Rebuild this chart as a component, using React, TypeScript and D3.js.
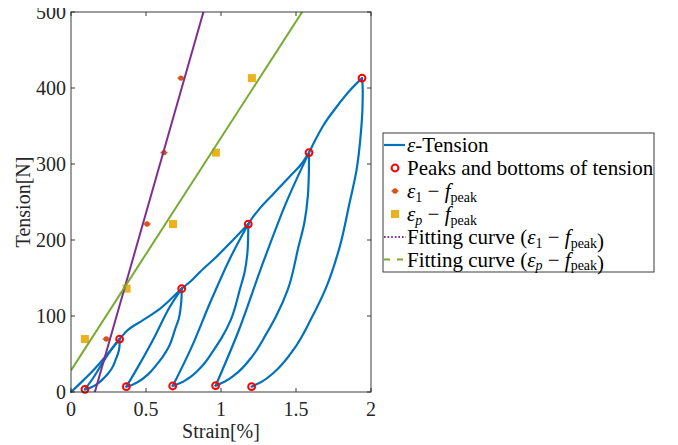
import React from "react";
import * as d3 from "d3";

type P = [number, number];

// ---------- data (strain %, tension N) ----------
const loadInitial: P[] = [[0, 0], [0.08, 15], [0.16, 31], [0.24, 49], [0.324, 69.7]];
const unload1: P[] = [[0.324, 69.7], [0.324, 65.1], [0.322, 57.8], [0.312, 49.8], [0.299, 43.2], [0.271, 30.6], [0.243, 23.4], [0.218, 18.1], [0.185, 12.1], [0.139, 6.5], [0.116, 4.7], [0.093, 3.5]];
const reload1: P[] = [[0.093, 3.5], [0.151, 19.4], [0.209, 37.9], [0.266, 55.1], [0.324, 69.7]];
const env12: P[] = [[0.324, 69.7], [0.37, 80], [0.48, 94.5], [0.59, 109], [0.68, 125], [0.738, 136]];
const unload2: P[] = [[0.738, 136], [0.737, 125], [0.731, 111], [0.718, 96], [0.697, 84.4], [0.653, 59.9], [0.609, 45.7], [0.568, 35.4], [0.517, 23.8], [0.443, 12.8], [0.406, 9.3], [0.369, 7]];
const reload2: P[] = [[0.369, 7], [0.461, 38], [0.561, 74.1], [0.646, 107.6], [0.738, 136]];
const env23: P[] = [[0.738, 136], [0.8, 146], [0.86, 158], [0.97, 178], [1.08, 200], [1.182, 221]];
const unload3: P[] = [[1.182, 221], [1.181, 204], [1.175, 181], [1.157, 157.1], [1.127, 135.8], [1.066, 95.3], [1.006, 71.8], [0.95, 54.8], [0.88, 35.6], [0.779, 17.5], [0.728, 11.7], [0.678, 7.9]];
const reload3: P[] = [[0.678, 7.9], [0.804, 59.0], [0.93, 118.7], [1.056, 174.1], [1.182, 221]];
const env34: P[] = [[1.182, 221], [1.216, 231], [1.26, 242], [1.35, 261], [1.46, 284], [1.54, 301], [1.587, 315]];
const unload4: P[] = [[1.587, 315], [1.586, 292], [1.579, 258], [1.556, 223], [1.518, 192.3], [1.444, 134.0], [1.369, 100.3], [1.3, 75.8], [1.213, 48.2], [1.089, 22.1], [1.026, 13.8], [0.964, 8.3]];
const reload4: P[] = [[0.964, 8.3], [1.12, 81.9], [1.276, 167.8], [1.431, 247.5], [1.587, 315]];
const env45: P[] = [[1.587, 315], [1.627, 331], [1.68, 350], [1.77, 375], [1.86, 397], [1.94, 413]];
const unload5: P[] = [[1.94, 413], [1.945, 396.8], [1.943, 372.4], [1.932, 339.9], [1.903, 291.2], [1.859, 250.6], [1.79, 190], [1.70, 137], [1.601, 96.3], [1.498, 59.8], [1.351, 25.3], [1.278, 14.3], [1.204, 7]];

const loadingSegments: P[][] = [loadInitial, reload1, env12, reload2, env23, reload3, env34, reload4, env45];
const unloadingSegments: P[][] = [unload1, unload2, unload3, unload4, unload5];

const peakStrain = [0.324, 0.738, 1.182, 1.587, 1.94];
const peakTension = [69.7, 136, 221, 315, 413];
const bottomStrain = [0.093, 0.369, 0.678, 0.964, 1.204];
const bottomTension = [3.5, 7, 7.9, 8.3, 7];

const eps1Strain = [0.235, 0.37, 0.507, 0.62, 0.733];
const epspStrain = [0.093, 0.371, 0.68, 0.966, 1.206];
const fPeak = [69.7, 136, 221, 315, 413];

const fitSlope = [691, 306];
const fitIntercept = [-110, 28.5];

const xTicks = [0, 0.5, 1, 1.5, 2];
const xTickLabels = ["0", "0.5", "1", "1.5", "2"];
const yTicks = [0, 100, 200, 300, 400, 500];
const yTickLabels = ["0", "100", "200", "300", "400", "500"];

// ---------- layout ----------
const W = 678, H = 445;
const L = 71, R = 371, T = 12, B = 392;
const BLUE = "#0072BD", RED = "#FF0000", ORANGE = "#D95319", YELLOW = "#EDB120", PURPLE = "#7E2F8E", GREEN = "#77AC30";
const AX = "#262626";
const FAM = "Liberation Serif";

export default function App() {
  const x = d3.scaleLinear().domain([0, 2]).range([L, R]);
  const y = d3.scaleLinear().domain([0, 500]).range([B, T]);
  const lineX = d3.line<P>().x(d => x(d[0])).y(d => y(d[1])).curve(d3.curveMonotoneX);
  const lineY = d3.line<P>().x(d => x(d[0])).y(d => y(d[1])).curve(d3.curveMonotoneY);

  const fitLine = (i: number) => {
    const pts: P[] = [[0, fitIntercept[i]], [2, fitSlope[i] * 2 + fitIntercept[i]]];
    return d3.line<P>().x(d => x(d[0])).y(d => y(d[1]))(pts) || "";
  };

  const legX = 383, legY = 133, legW = 271, legH = 139;
  const rowY = [145, 168, 191, 214, 237, 259.5];
  const tx = 407;
  const lfs = 21;
  const sub = 14;

  const ε1 = (
    <>
      <tspan fontStyle="italic">ε</tspan>
      <tspan fontSize={sub} dy={3.5}>1</tspan>
      <tspan dy={-3.5}> − </tspan>
      <tspan fontStyle="italic">f</tspan>
      <tspan fontSize={sub} dy={3.5}>peak</tspan>
      <tspan dy={-3.5}></tspan>
    </>
  );
  const εp = (
    <>
      <tspan fontStyle="italic">ε</tspan>
      <tspan fontSize={sub} fontStyle="italic" dy={3.5}>p</tspan>
      <tspan dy={-3.5}> − </tspan>
      <tspan fontStyle="italic">f</tspan>
      <tspan fontSize={sub} dy={3.5}>peak</tspan>
      <tspan dy={-3.5}></tspan>
    </>
  );

  const star = (cx: number, cy: number, k: string) => (
    <g key={k}>
      <line x1={cx - 3.5} x2={cx + 3.5} y1={cy} y2={cy} stroke={ORANGE} strokeWidth={1.3} />
      <circle cx={cx} cy={cy} r={2.7} fill={ORANGE} />
    </g>
  );

  const T_ = (props: any) => (
    <text fontFamily={FAM} style={{ fontFamily: `"${FAM}"` }} {...props} />
  );

  return (
    <svg width={W} height={H} overflow="visible">
      <style>{`text, tspan { font-family: "Liberation Serif", "Times New Roman", Tinos; }`}</style>
      <defs>
        <clipPath id="plotclip">
          <rect x={L} y={T} width={R - L} height={B - T} />
        </clipPath>
      </defs>
      <g transform="translate(-8,-8)">
        <rect x={0} y={0} width={W} height={H} fill="#fff" />

        {/* blue curve */}
        <g fill="none" stroke={BLUE} strokeWidth={2.2} strokeLinejoin="round" strokeLinecap="round">
          {loadingSegments.map((s, i) => <path key={"l" + i} d={lineX(s) || ""} />)}
          {unloadingSegments.map((s, i) => <path key={"u" + i} d={lineY(s.slice().reverse()) || ""} />)}
        </g>

        {/* peaks and bottoms */}
        <g fill="none" stroke={RED} strokeWidth={2}>
          {peakStrain.map((s, i) => <circle key={"p" + i} cx={x(s)} cy={y(peakTension[i])} r={3.4} />)}
          {bottomStrain.map((s, i) => <circle key={"b" + i} cx={x(s)} cy={y(bottomTension[i])} r={3.4} />)}
        </g>

        {/* eps1 - fpeak */}
        {eps1Strain.map((s, i) => star(x(s), y(fPeak[i]), "e" + i))}

        {/* epsp - fpeak */}
        {epspStrain.map((s, i) => (
          <rect key={"q" + i} x={x(s) - 4} y={y(fPeak[i]) - 4} width={8} height={8} fill={YELLOW} />
        ))}

        {/* fitting lines */}
        <g clipPath="url(#plotclip)" fill="none" strokeWidth={2}>
          <path d={fitLine(0)} stroke={PURPLE} />
          <path d={fitLine(1)} stroke={GREEN} />
        </g>

        {/* axes box and ticks */}
        <rect x={L} y={T} width={R - L} height={B - T} fill="none" stroke={AX} strokeWidth={0.9} />
        <g stroke={AX} strokeWidth={0.9}>
          {xTicks.map((t, i) => (
            <g key={"xt" + i}>
              <line x1={x(t)} x2={x(t)} y1={B} y2={B - 4} />
              <line x1={x(t)} x2={x(t)} y1={T} y2={T + 4} />
            </g>
          ))}
          {yTicks.map((t, i) => (
            <g key={"yt" + i}>
              <line x1={L} x2={L + 4} y1={y(t)} y2={y(t)} />
              <line x1={R} x2={R - 4} y1={y(t)} y2={y(t)} />
            </g>
          ))}
        </g>
        {xTicks.map((t, i) => (
          <T_ key={"xl" + i} fill={AX} fontSize={20} x={x(t)} y={B + 24} textAnchor="middle">{xTickLabels[i]}</T_>
        ))}
        {yTicks.map((t, i) => (
          <T_ key={"yl" + i} fill={AX} fontSize={20} x={L - 5} y={y(t) + 6.5} textAnchor="end">{yTickLabels[i]}</T_>
        ))}
        <T_ fill={AX} fontSize={20} x={(L + R) / 2} y={438} textAnchor="middle">Strain[%]</T_>
        <T_ fill={AX} fontSize={20} transform={`translate(30, ${(T + B) / 2}) rotate(-90)`} textAnchor="middle">Tension[N]</T_>

        {/* legend */}
        <rect x={legX} y={legY} width={legW} height={legH} fill="#fff" stroke={AX} strokeWidth={0.9} />
        <line x1={384} x2={405} y1={rowY[0]} y2={rowY[0]} stroke={BLUE} strokeWidth={2.2} />
        <circle cx={395} cy={rowY[1]} r={3.4} fill="none" stroke={RED} strokeWidth={2} />
        {star(395, rowY[2], "ls")}
        <rect x={391} y={rowY[3] - 4} width={8} height={8} fill={YELLOW} />
        <line x1={384} x2={406} y1={rowY[4]} y2={rowY[4]} stroke={PURPLE} strokeWidth={2} strokeDasharray="1.6,2" />
        <line x1={384} x2={407} y1={rowY[5]} y2={rowY[5]} stroke={GREEN} strokeWidth={2} strokeDasharray="6,7" />
        <T_ fill="#000" fontSize={lfs} x={tx} y={rowY[0] + 7}><tspan fontStyle="italic">ε</tspan>-Tension</T_>
        <T_ fill="#000" fontSize={lfs} x={tx} y={rowY[1] + 7}>Peaks and bottoms of tension</T_>
        <T_ fill="#000" fontSize={lfs} x={tx} y={rowY[2] + 7}>{ε1}</T_>
        <T_ fill="#000" fontSize={lfs} x={tx} y={rowY[3] + 7}>{εp}</T_>
        <T_ fill="#000" fontSize={lfs} x={tx} y={rowY[4] + 7}>Fitting curve (<tspan>{ε1}</tspan>)</T_>
        <T_ fill="#000" fontSize={lfs} x={tx} y={rowY[5] + 7}>Fitting curve (<tspan>{εp}</tspan>)</T_>
      </g>
    </svg>
  );
}
